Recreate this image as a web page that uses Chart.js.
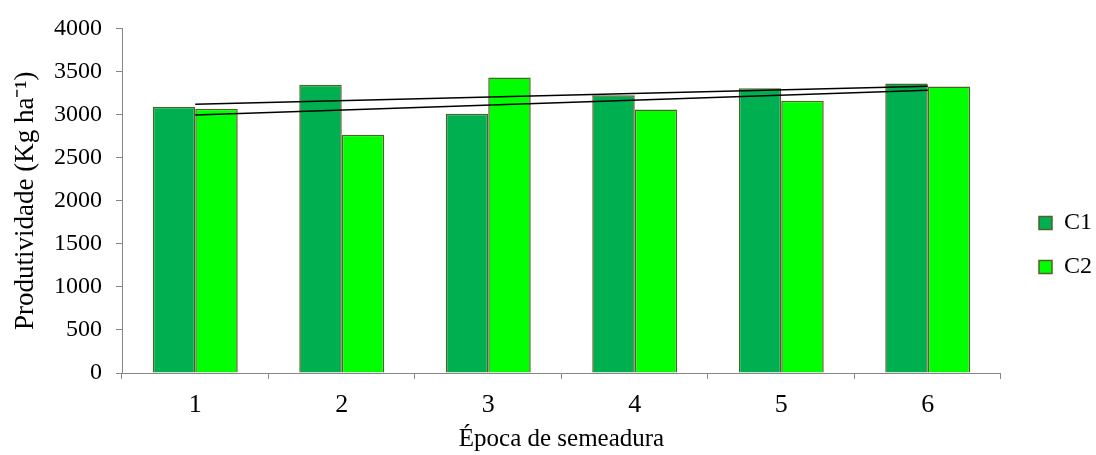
<!DOCTYPE html>
<html>
<head>
<meta charset="utf-8">
<script src="https://cdn.jsdelivr.net/npm/chart.js@4/dist/chart.umd.min.js"></script>
<style>
  html, body { margin: 0; padding: 0; background: #ffffff; }
  #wrap { width: 1096px; height: 455px; }
</style>
</head>
<body>
<div id="wrap"><canvas id="c" width="1096" height="455"></canvas></div>
<script>
const categories = ['1', '2', '3', '4', '5', '6'];
const seriesNames = ['C1', 'C2'];
const c1Values = [3090, 3345, 3010, 3225, 3305, 3360];
const c2Values = [3068, 2765, 3430, 3060, 3160, 3325];
// linear trend lines read at first and last category
const trendC1 = [3121, null, null, null, null, 3329];
const trendC2 = [2995, null, null, null, null, 3283];
const yTicks = [0, 500, 1000, 1500, 2000, 2500, 3000, 3500, 4000];
const xTitle = 'Época de semeadura';
const yTitle = 'Produtividade (Kg ha⁻¹)';

const serif = "'Liberation Serif', 'Times New Roman', serif";
const axisGray = '#868686';

const legendShift = {
  id: 'legendShift',
  afterLayout(chart) {
    const lg = chart.legend;
    if (!lg) return;
    lg.left += 18; lg.right += 18;
    lg.top += 4; lg.bottom += 4;
  }
};

new Chart(document.getElementById('c'), {
  data: {
    labels: categories,
    datasets: [
      { type: 'line', label: 'trend C1', data: trendC1, borderColor: '#000000', borderWidth: 1.5,
        pointRadius: 0, spanGaps: true, fill: false, order: 0, tension: 0 },
      { type: 'line', label: 'trend C2', data: trendC2, borderColor: '#000000', borderWidth: 1.5,
        pointRadius: 0, spanGaps: true, fill: false, order: 0, tension: 0 },
      { type: 'bar', label: seriesNames[0], data: c1Values, backgroundColor: '#00B050',
        borderColor: '#4F6228', borderWidth: 1.5, order: 1,
        categoryPercentage: 0.58, barPercentage: 1.0 },
      { type: 'bar', label: seriesNames[1], data: c2Values, backgroundColor: '#00FF00',
        borderColor: '#4F6228', borderWidth: 1.5, order: 1,
        categoryPercentage: 0.58, barPercentage: 1.0 }
    ]
  },
  options: {
    responsive: false,
    animation: false,
    devicePixelRatio: 1,
    layout: { padding: { top: 27, right: 12, left: 0, bottom: 0 } },
    plugins: {
      tooltip: { enabled: false },
      legend: {
        position: 'right',
        align: 'center',
        labels: {
          filter: (item) => seriesNames.includes(item.text),
          boxWidth: 13,
          boxHeight: 13,
          padding: 20,
          color: '#000000',
          font: { family: serif, size: 24 }
        }
      }
    },
    scales: {
      x: {
        type: 'category',
        offset: true,
        grid: { display: true, offset: true, drawOnChartArea: false, drawTicks: true,
                tickLength: 6, color: axisGray, lineWidth: 1 },
        border: { display: true, color: axisGray, width: 1 },
        ticks: { color: '#000000', font: { family: serif, size: 26 }, padding: 11, maxRotation: 0 },
        title: { display: true, text: xTitle, color: '#000000',
                 font: { family: serif, size: 25 }, padding: { top: 0, bottom: 1 } },
        afterFit(scale) { scale.height = 82; }
      },
      y: {
        min: 0,
        max: 4000,
        afterBuildTicks(scale) { scale.ticks = yTicks.map(v => ({ value: v })); },
        grid: { display: true, drawOnChartArea: false, drawTicks: true,
                tickLength: 6, color: axisGray, lineWidth: 1 },
        border: { display: true, color: axisGray, width: 1 },
        ticks: { color: '#000000', font: { family: serif, size: 24 }, padding: 14,
                 callback: (v) => String(v) },
        title: { display: true, text: yTitle, color: '#000000',
                 font: { family: serif, size: 27 }, padding: { top: 10, bottom: 0 } },
        afterFit(scale) { scale.width = 122; }
      }
    }
  },
  plugins: [legendShift]
});
</script>
</body>
</html>
